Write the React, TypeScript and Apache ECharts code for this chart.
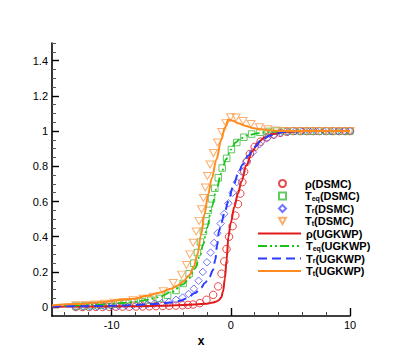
import React, { useEffect, useRef } from 'react';
import * as echarts from 'echarts';

const FONT = '"Liberation Sans", Arial, Helvetica, sans-serif';

// ---- axis ticks ----
const xMajorTicks = [-10, 0, 10];
const xMinorTicks = [-14, -12, -8, -6, -4, -2, 2, 4, 6, 8];
const yMajorTicks = [0, 0.2, 0.4, 0.6, 0.8, 1, 1.2, 1.4];
const yMinorTicks = [0.05, 0.1, 0.15, 0.25, 0.3, 0.35, 0.45, 0.5, 0.55, 0.65, 0.7, 0.75, 0.85, 0.9, 0.95, 1.05, 1.1, 1.15, 1.25, 1.3, 1.35, 1.45, 1.5];

// ---- series names ----
const dsmcNames = ['ρ(DSMC)', 'Teq(DSMC)', 'Tr(DSMC)', 'Tt(DSMC)'];
const ugkwpNames = ['ρ(UGKWP)', 'Teq(UGKWP)', 'Tr(UGKWP)', 'Tt(UGKWP)'];

// ---- DSMC data ----
const rhoDsmcX = [-13, -12.44, -11.88, -11.32, -10.76, -10.2, -9.64, -9.08, -8.52, -7.96, -7.4, -6.84, -6.28, -5.72, -5.16, -4.6, -4.04, -3.6, -3.16, -2.6, -2.04, -1.48, -1.06, -0.78, -0.55, -0.36, -0.15, 0.15, 0.38, 0.6, 0.8, 0.97, 1.12, 1.32, 1.6, 2.0, 2.5, 3.05, 3.6, 4.15, 4.7, 5.25, 5.8, 6.35, 6.9, 7.45, 8.0, 8.55, 9.1, 9.6, 10];
const rhoDsmcY = [0.001, 0.001, 0.001, 0.002, 0.002, 0.002, 0.003, 0.003, 0.003, 0.004, 0.004, 0.005, 0.006, 0.007, 0.008, 0.009, 0.011, 0.013, 0.015, 0.023, 0.042, 0.07, 0.118, 0.19, 0.26, 0.33, 0.4, 0.46, 0.52, 0.585, 0.645, 0.71, 0.77, 0.825, 0.87, 0.91, 0.94, 0.965, 0.98, 0.99, 0.996, 1, 1, 1, 1, 1, 1, 1, 1, 1, 1];

const teqDsmcX = [-13, -12.3, -11.6, -10.9, -10.2, -9.5, -8.8, -8.1, -7.4, -6.7, -6.0, -5.3, -4.6, -4.0, -3.5, -3.1, -2.8, -2.55, -2.3, -2.08, -1.88, -1.62, -1.34, -1.05, -0.72, -0.35, 0.05, 0.5, 1.1, 1.75, 2.45, 3.15, 3.85, 4.55, 5.25, 5.95, 6.65, 7.35, 8.05, 8.75, 9.45, 10];
const teqDsmcY = [0.006, 0.007, 0.009, 0.011, 0.014, 0.018, 0.022, 0.027, 0.032, 0.04, 0.05, 0.068, 0.095, 0.135, 0.19, 0.25, 0.31, 0.37, 0.43, 0.49, 0.55, 0.615, 0.675, 0.735, 0.79, 0.845, 0.895, 0.935, 0.965, 0.983, 0.993, 0.998, 1, 1, 1, 1, 1, 1, 1, 1, 1, 1];

const trDsmcX = [-13, -12.4, -11.8, -11.2, -10.6, -10.0, -9.4, -8.8, -8.2, -7.6, -7.0, -6.4, -5.8, -5.2, -4.6, -4.05, -3.55, -3.1, -2.7, -2.35, -2.0, -1.7, -1.4, -1.12, -0.85, -0.55, -0.2, 0.15, 0.5, 0.9, 1.35, 1.85, 2.4, 3.0, 3.6, 4.2, 4.8, 5.4, 6.0, 6.6, 7.2, 7.8, 8.4, 9.0, 9.5, 10];
const trDsmcY = [0.002, 0.003, 0.003, 0.004, 0.005, 0.006, 0.007, 0.009, 0.011, 0.013, 0.016, 0.02, 0.024, 0.03, 0.042, 0.055, 0.075, 0.105, 0.15, 0.2, 0.255, 0.31, 0.365, 0.42, 0.475, 0.53, 0.59, 0.65, 0.71, 0.77, 0.83, 0.88, 0.925, 0.958, 0.978, 0.99, 0.996, 1, 1, 1, 1, 1, 1, 1, 1, 1];

const ttDsmcX = [-13, -12.2, -11.4, -10.6, -9.8, -9.0, -8.2, -7.35, -6.5, -5.67, -4.83, -4.13, -3.72, -3.44, -3.16, -2.9, -2.66, -2.46, -2.3, -2.14, -1.96, -1.74, -1.46, -1.12, -0.76, -0.4, -0.02, 0.45, 1.03, 1.7, 2.4, 3.1, 3.8, 4.5, 5.2, 5.9, 6.6, 7.3, 8.0, 8.7, 9.4, 10];
const ttDsmcY = [0.011, 0.013, 0.016, 0.02, 0.025, 0.03, 0.04, 0.048, 0.06, 0.09, 0.137, 0.185, 0.24, 0.3, 0.366, 0.43, 0.49, 0.556, 0.62, 0.68, 0.745, 0.81, 0.875, 0.935, 0.995, 1.045, 1.078, 1.077, 1.057, 1.04, 1.022, 1.01, 1.004, 1.0, 1, 1, 1, 1, 1, 1, 1, 1];

// ---- UGKWP data ----
const rhoUgX = [-15, -12, -10, -8, -6, -4, -3, -2, -1.5, -1.2, -1.0, -0.8, -0.65, -0.5, -0.35, -0.2, 0, 0.3, 0.6, 0.9, 1.3, 1.8, 2.3, 2.8, 3.5, 4.5, 6, 8, 10];
const rhoUgY = [0.003, 0.004, 0.005, 0.006, 0.008, 0.012, 0.015, 0.02, 0.026, 0.033, 0.04, 0.055, 0.09, 0.16, 0.27, 0.4, 0.48, 0.57, 0.645, 0.715, 0.805, 0.885, 0.935, 0.962, 0.983, 0.995, 1, 1, 1];

const teqUgX = [-15, -13, -11, -9, -8, -7, -6, -5, -4, -3.5, -3, -2.6, -2.3, -2, -1.6, -1.2, -0.8, -0.4, 0, 0.4, 0.8, 1.4, 2.2, 3, 4, 5, 7, 10];
const teqUgY = [0.007, 0.01, 0.015, 0.024, 0.031, 0.042, 0.058, 0.085, 0.13, 0.165, 0.22, 0.29, 0.36, 0.45, 0.57, 0.67, 0.76, 0.84, 0.895, 0.935, 0.958, 0.975, 0.987, 0.994, 0.998, 1, 1, 1];

const trUgX = [-15, -12, -10, -8, -6, -5, -4.3, -3.7, -3, -2.5, -2.18, -1.8, -1.5, -1.3, -1.15, -1.0, -0.8, -0.5, -0.22, 0.2, 0.6, 1.0, 1.45, 2, 2.6, 3.3, 4, 5, 6, 8, 10];
const trUgY = [0.004, 0.006, 0.008, 0.012, 0.02, 0.027, 0.035, 0.05, 0.08, 0.11, 0.137, 0.17, 0.21, 0.27, 0.35, 0.43, 0.48, 0.54, 0.6, 0.685, 0.755, 0.81, 0.86, 0.91, 0.95, 0.975, 0.99, 0.998, 1, 1, 1];

const ttUgX = [-15, -13, -11, -9, -8, -7, -6, -5, -4.5, -4, -3.5, -3.1, -2.8, -2.5, -2.2, -1.9, -1.6, -1.2, -0.8, -0.5, -0.2, 0.2, 0.6, 1.2, 1.8, 2.5, 3.3, 4.2, 6, 10];
const ttUgY = [0.01, 0.018, 0.028, 0.042, 0.05, 0.065, 0.082, 0.105, 0.122, 0.145, 0.18, 0.23, 0.3, 0.41, 0.53, 0.64, 0.73, 0.84, 0.95, 1.02, 1.065, 1.058, 1.045, 1.03, 1.018, 1.01, 1.004, 1, 1, 1];

const RED = '#e01b1b';
const GREEN_LINE = '#16c416';
const GREEN_SYM = '#3cbb3c';
const BLUE_LINE = '#2a3cff';
const BLUE_SYM = '#5050ff';
const ORANGE_LINE = '#ff8a1e';
const ORANGE_SYM = '#f99a4a';
const TRI = 'path://M0,0L10,0L5,9Z';

const zip = (xs: number[], ys: number[]) => xs.map((x, i) => [x, ys[i]]);

const richBody = (name: string) => {
  const m = name.match(/^T(eq|r|t)(\(.*\))$/);
  if (m) return `{m|T}{s|${m[1]}}{m|${m[2]}}`;
  return `{m|${name}}`;
};

const richStyles = {
  p: { width: 14, lineHeight: 11, padding: [0, 0, 1.5, 0], verticalAlign: 'top' },
  m: { fontFamily: FONT, fontSize: 11, fontWeight: 'bold', color: '#000', lineHeight: 11, padding: [0, 0, 1.5, 0], verticalAlign: 'top' },
  s: { fontFamily: FONT, fontSize: 7, fontWeight: 'bold', color: '#000', lineHeight: 7, verticalAlign: 'bottom' },
};

export default function App() {
  const ref = useRef<HTMLDivElement>(null);
  useEffect(() => {
    const chart = echarts.init(ref.current!, null, { renderer: 'svg' });
    const scatter = (name: string, xs: number[], ys: number[], symbol: string, size: any, color: string) => ({
      name,
      type: 'scatter',
      data: zip(xs, ys),
      symbol,
      symbolSize: size,
      itemStyle: { color: 'rgba(255,255,255,0)', borderColor: color, borderWidth: 1 },
      z: 2,
    });
    const line = (name: string, xs: number[], ys: number[], color: string, width: number, type: any) => ({
      name,
      type: 'line',
      data: zip(xs, ys),
      symbol: 'none',
      showSymbol: false,
      smooth: 0.35,
      smoothMonotone: 'x',
      itemStyle: { color },
      lineStyle: { color, width, type },
      z: 3,
    });
    const dsmcIcons = ['circle', 'rect', 'diamond', TRI];
    const option: any = {
      animation: false,
      backgroundColor: '#fff',
      grid: { left: 52, right: 49, top: 43, bottom: 39, containLabel: false },
      xAxis: [
        {
          type: 'value', min: -15, max: 10, position: 'bottom',
          axisLine: { onZero: false, lineStyle: { color: '#000', width: 1.6 } },
          axisTick: { inside: true, length: 8, customValues: xMajorTicks, lineStyle: { color: '#000', width: 1.4 } },
          axisLabel: { customValues: xMajorTicks, margin: 3, color: '#000', fontSize: 11, fontFamily: FONT },
          splitLine: { show: false },
          name: 'x', nameLocation: 'middle', nameGap: 11,
          nameTextStyle: { color: '#000', fontWeight: 'bold', fontSize: 12, fontFamily: FONT },
        },
        {
          type: 'value', min: -15, max: 10, position: 'bottom',
          axisLine: { show: false, onZero: false },
          axisTick: { inside: true, length: 4, customValues: xMinorTicks, lineStyle: { color: '#444', width: 1 } },
          axisLabel: { show: false },
          splitLine: { show: false },
        },
      ],
      yAxis: [
        {
          type: 'value', min: -0.05, max: 1.5, position: 'left',
          axisLine: { onZero: false, lineStyle: { color: '#000', width: 1.6 } },
          axisTick: { inside: true, length: 7, customValues: yMajorTicks, lineStyle: { color: '#000', width: 1.4 } },
          axisLabel: { customValues: yMajorTicks, margin: 4, color: '#000', fontSize: 11, fontFamily: FONT },
          splitLine: { show: false },
        },
        {
          type: 'value', min: -0.05, max: 1.5, position: 'left',
          axisLine: { show: false, onZero: false },
          axisTick: { inside: true, length: 4, customValues: yMinorTicks, lineStyle: { color: '#555', width: 1 } },
          axisLabel: { show: false },
          splitLine: { show: false },
        },
      ],
      legend: [
        {
          orient: 'vertical',
          left: 273,
          top: 173,
          itemWidth: 7,
          itemHeight: 7,
          itemGap: 0,
          data: dsmcNames.map((n, i) => ({ name: n, icon: dsmcIcons[i] })),
          formatter: (name: string) => `{p| }${richBody(name)}`,
          textStyle: { fontFamily: FONT, fontSize: 11, fontWeight: 'bold', color: '#000', rich: richStyles },
        },
        {
          orient: 'vertical',
          left: 252,
          top: 223,
          itemWidth: 43,
          itemHeight: 7,
          itemGap: 0,
          data: ugkwpNames.map((n) => ({ name: n, itemStyle: { opacity: 0 } })),
          formatter: (name: string) => richBody(name),
          textStyle: { fontFamily: FONT, fontSize: 11, fontWeight: 'bold', color: '#000', rich: richStyles },
        },
      ],
      series: [
        scatter(dsmcNames[0], rhoDsmcX, rhoDsmcY, 'circle', 7.5, RED),
        scatter(dsmcNames[1], teqDsmcX, teqDsmcY, 'rect', 6.5, GREEN_SYM),
        scatter(dsmcNames[2], trDsmcX, trDsmcY, 'diamond', 7.5, BLUE_SYM),
        scatter(dsmcNames[3], ttDsmcX, ttDsmcY, TRI, [8, 7], ORANGE_SYM),
        line(ugkwpNames[0], rhoUgX, rhoUgY, RED, 2, 'solid'),
        line(ugkwpNames[1], teqUgX, teqUgY, GREEN_LINE, 1.8, [9, 3, 2, 3, 2, 3]),
        line(ugkwpNames[2], trUgX, trUgY, BLUE_LINE, 2, [9, 5]),
        line(ugkwpNames[3], ttUgX, ttUgY, ORANGE_LINE, 2, 'solid'),
      ],
    };
    chart.setOption(option);
    return () => chart.dispose();
  }, []);
  return (
    <div
      ref={ref}
      style={{ position: 'fixed', left: 0, top: 0, width: 399, height: 355, background: '#fff' }}
    />
  );
}
